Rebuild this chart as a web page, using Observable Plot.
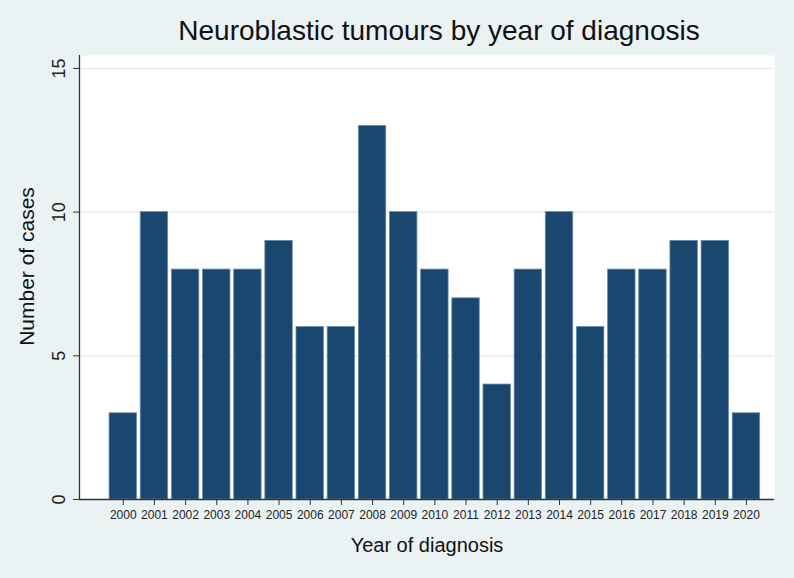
<!DOCTYPE html>
<html>
<head>
<meta charset="utf-8">
<script src="https://cdn.jsdelivr.net/npm/d3@7"></script>
<script src="https://cdn.jsdelivr.net/npm/@observablehq/plot@0.6"></script>
<style>
  html, body { margin: 0; padding: 0; background: #eaf2f3; }
  #chart svg { display: block; }
</style>
</head>
<body>
<div id="chart"></div>
<script>
const years = [2000,2001,2002,2003,2004,2005,2006,2007,2008,2009,2010,2011,2012,2013,2014,2015,2016,2017,2018,2019,2020];
const cases = [3,10,8,8,8,9,6,6,13,10,8,7,4,8,10,6,8,8,9,9,3];
const yTicks = [0,5,10,15];
const title = "Neuroblastic tumours by year of diagnosis";
const xTitle = "Year of diagnosis";
const yTitle = "Number of cases";

const data = years.map((y, i) => ({year: y, n: cases[i]}));
const half = 0.44;
const font = "Liberation Sans, Arial, Helvetica, sans-serif";

const chart = Plot.plot({
  width: 794,
  height: 578,
  marginLeft: 79,
  marginRight: 20,
  marginTop: 55,
  marginBottom: 79,
  style: {background: "#eaf2f3", fontFamily: font, color: "#222"},
  x: {domain: [1998.595, 2020.9], axis: null},
  y: {domain: [0, 15.45], axis: null},
  marks: [
    Plot.frame({fill: "white", stroke: "none"}),
    Plot.ruleY(yTicks.filter(d => d > 0), {stroke: "#e3eef1", strokeWidth: 1.5}),
    Plot.rectY(data, {x1: d => d.year - half, x2: d => d.year + half, y: "n", fill: "#1a476f", stroke: "#6a8aa8", strokeWidth: 0.8}),
    Plot.ruleY([0], {stroke: "#333", strokeWidth: 1.3}),
    Plot.ruleX([1998.595], {stroke: "#333", strokeWidth: 1.3}),
    Plot.axisX({ticks: years, tickFormat: d => String(d), tickSize: 6, tickPadding: 5, fontSize: 12, label: null, stroke: "#333", color: "#222"}),
    Plot.axisY({ticks: yTicks, tickSize: 6, tickPadding: 9, tickRotate: -90, fontSize: 18, label: null, stroke: "#333", color: "#222"}),
    Plot.text([title], {frameAnchor: "top", textAnchor: "middle", dx: 12, dy: -24, fontSize: 28, fill: "#111", lineAnchor: "middle"}),
    Plot.text([xTitle], {frameAnchor: "bottom", textAnchor: "middle", dy: 46, fontSize: 20, fill: "#111", lineAnchor: "middle"}),
    Plot.text([yTitle], {frameAnchor: "left", textAnchor: "middle", dx: -52, dy: -11, rotate: -90, fontSize: 21, fill: "#111", lineAnchor: "middle"})
  ]
});
document.getElementById("chart").appendChild(chart);
</script>
</body>
</html>
